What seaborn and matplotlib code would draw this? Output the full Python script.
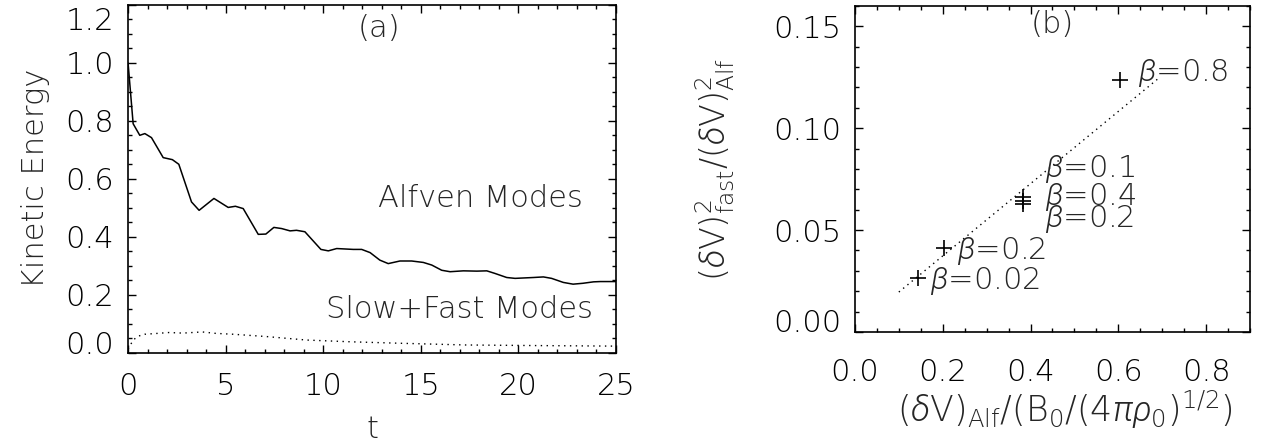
import matplotlib
matplotlib.use("Agg")
import matplotlib.pyplot as plt
import matplotlib.font_manager as fm
import matplotlib.transforms as mtransforms
from matplotlib.ticker import MultipleLocator, FormatStrFormatter
import seaborn as sns

# ---------------- data ----------------
# panel (a): kinetic energy vs time
t_alfven = [0, 0.26, 0.6, 0.86, 1.2, 1.8, 2.27, 2.6, 3.25, 3.64, 4.4, 5.13, 5.5, 5.9,
            6.67, 7.06, 7.47, 7.87, 8.3, 8.63, 9.06, 9.88, 10.26, 10.69, 11.54, 11.97,
            12.4, 12.9, 13.33, 13.93, 14.53, 15.13, 15.56, 16.07, 16.5, 17.18, 17.87,
            18.38, 18.8, 19.4, 19.83, 20.77, 21.28, 21.7, 22.3, 22.8, 23.3, 23.85, 24.2, 25.0]
e_alfven = [1.0, 0.79, 0.75, 0.756, 0.742, 0.673, 0.666, 0.65, 0.52, 0.491, 0.532, 0.501,
            0.505, 0.497, 0.408, 0.409, 0.432, 0.428, 0.42, 0.422, 0.417, 0.356, 0.351,
            0.359, 0.356, 0.356, 0.345, 0.319, 0.307, 0.316, 0.316, 0.311, 0.302, 0.284,
            0.279, 0.282, 0.281, 0.282, 0.273, 0.259, 0.256, 0.259, 0.261, 0.256, 0.242,
            0.236, 0.239, 0.244, 0.245, 0.245]
t_slowfast = [0, 0.1, 0.3, 0.5, 0.85, 1.5, 2.1, 2.8, 3.8, 4.5, 5.4, 7.1, 9.15, 11.4,
              13.9, 17.3, 20.8, 25.0]
e_slowfast = [0.012, 0.025, 0.045, 0.056, 0.063, 0.066, 0.069, 0.067, 0.071, 0.066,
              0.063, 0.055, 0.043, 0.037, 0.032, 0.026, 0.024, 0.022]

# panel (b): fast/Alfven ratio vs Alfven amplitude
beta_labels = ["0.02", "0.2", "0.1", "0.4", "0.2", "0.8"]
dv_alf = [0.143, 0.204, 0.383, 0.383, 0.383, 0.604]
ratio_fast = [0.0267, 0.041, 0.0661, 0.0643, 0.0626, 0.1239]
fit_x = [0.10, 0.69]
fit_y = [0.0196, 0.1242]

# ---------------- fonts ----------------
sns.set_style("white")


def _weight(f):
    w = f.weight
    if isinstance(w, str):
        w = fm.weight_dict.get(w, 400)
    return w


def pick_font(prefs, style):
    found = []
    for f in fm.fontManager.ttflist:
        w = _weight(f)
        if f.style != style:
            continue
        if "Condensed" in f.fname or "Mono" in f.name or "Serif" in f.name:
            continue
        for i, base in enumerate(prefs):
            if f.name == base or f.name in (base + " Light", base + " ExtraLight"):
                if 200 <= w <= 300:
                    found.append((i, -w, f.name, w))
    if found:
        found.sort()
        return found[0][2], found[0][3]
    return None, None


FONT, WEIGHT = pick_font(["DejaVu Sans", "Roboto", "Lato", "Open Sans", "Inter",
                          "Noto Sans"], "normal")
if FONT is None:
    FONT, WEIGHT = "DejaVu Sans", 400
IFONT, IWEIGHT = pick_font(["Roboto", "Lato", "Open Sans", "Noto Sans", "Inter",
                            "DejaVu Sans"], "italic")
if IFONT is None:
    IFONT, IWEIGHT = FONT, WEIGHT

plt.rcParams["font.family"] = [FONT, "DejaVu Sans"]
plt.rcParams["font.weight"] = WEIGHT
plt.rcParams["axes.labelweight"] = WEIGHT
plt.rcParams["mathtext.fontset"] = "custom"
plt.rcParams["mathtext.rm"] = f"{FONT}:weight={WEIGHT}"
plt.rcParams["mathtext.it"] = f"{IFONT}:italic:weight={IWEIGHT}"
plt.rcParams["mathtext.bf"] = f"{FONT}:weight=bold"
plt.rcParams["axes.linewidth"] = 1.2

if FONT.startswith("DejaVu"):
    FS, FST, FSM = 22, 22, 25
else:
    FS, FST, FSM = 25, 23, 27

fig = plt.figure(figsize=(12.73, 4.47), dpi=100)
fig.patch.set_facecolor("white")
ax1 = fig.add_axes([0.1006, 0.2114, 0.3833, 0.7774])
ax2 = fig.add_axes([0.6716, 0.2573, 0.3103, 0.7293])

# ---------------- panel (a) ----------------
sns.lineplot(x=t_alfven, y=e_alfven, ax=ax1, color="black", linewidth=1.1,
             estimator=None, sort=False)
sns.lineplot(x=t_slowfast, y=e_slowfast, ax=ax1, color="black", linewidth=1.0,
             linestyle=(0, (1, 3.2)), estimator=None, sort=False)
ax1.set_xlim(0, 25)
ax1.set_ylim(0, 1.2)
ax1.xaxis.set_major_locator(MultipleLocator(5))
ax1.xaxis.set_minor_locator(MultipleLocator(1))
ax1.yaxis.set_major_locator(MultipleLocator(0.2))
ax1.yaxis.set_minor_locator(MultipleLocator(0.05))
ax1.yaxis.set_major_formatter(FormatStrFormatter("%.1f"))
ax1.set_xlabel("t", fontsize=FS, fontweight=WEIGHT)
ax1.set_ylabel("Kinetic Energy", fontsize=FS, fontweight=WEIGHT)
ax1.xaxis.set_label_coords(0.5, -0.223)
ax1.xaxis.label.set_va("center")
ax1.yaxis.set_label_coords(-0.19, 0.5)
ax1.yaxis.label.set_va("center")
ax1.text(12.84, 1.12, "(a)", fontsize=FS, ha="center", va="center")
ax1.text(18.05, 0.533, "Alfven Modes", fontsize=FS, ha="center", va="center")
ax1.text(16.97, 0.147, "Slow+Fast Modes", fontsize=FS, ha="center", va="center")

# ---------------- panel (b) ----------------
sns.lineplot(x=fit_x, y=fit_y, ax=ax2, color="black", linewidth=1.0,
             linestyle=(0, (1, 3)), estimator=None, sort=False)
sns.scatterplot(x=dv_alf, y=ratio_fast, ax=ax2, marker="+", s=120, color="black",
                linewidth=1.2)
ax2.set_xlim(0, 0.9)
ax2.set_ylim(0, 0.16)
ax2.xaxis.set_major_locator(MultipleLocator(0.2))
ax2.xaxis.set_minor_locator(MultipleLocator(0.05))
ax2.yaxis.set_major_locator(MultipleLocator(0.05))
ax2.yaxis.set_minor_locator(MultipleLocator(0.01))
ax2.xaxis.set_major_formatter(FormatStrFormatter("%.1f"))
ax2.yaxis.set_major_formatter(FormatStrFormatter("%.2f"))
ax2.set_xlabel(r"$(\delta\mathrm{V})_{\mathrm{Alf}}/(\mathrm{B}_0/(4\pi\rho_0)^{1/2})$",
               fontsize=FSM, fontweight=WEIGHT)
ax2.set_ylabel(r"$(\delta\mathrm{V})^2_{\mathrm{fast}}/(\delta\mathrm{V})^2_{\mathrm{Alf}}$",
               fontsize=FSM - 1, fontweight=WEIGHT)
ax2.xaxis.set_label_coords(0.53, -0.24)
ax2.xaxis.label.set_va("center")
ax2.yaxis.set_label_coords(-0.354, 0.5)
ax2.yaxis.label.set_va("center")
ax2.text(0.45, 0.151, "(b)", fontsize=FS, ha="center", va="center")

label_pos = [(0.170, 0.0213), (0.232, 0.0356), (0.434, 0.0760),
             (0.434, 0.0623), (0.434, 0.0513), (0.645, 0.1231)]
for lab, (lx, ly) in zip(beta_labels, label_pos):
    ax2.text(lx, ly, r"$\beta$=" + lab, fontsize=FS, ha="left", va="baseline")

# ---------------- ticks ----------------
for ax, pady in ((ax1, 14), (ax2, 19)):
    ax.tick_params(which="both", direction="in", top=True, right=True,
                   bottom=True, left=True, colors="black")
    ax.tick_params(which="major", length=6, width=1.0)
    ax.tick_params(which="minor", length=3, width=1.0)
    ax.tick_params(axis="x", which="major", labelsize=FST, pad=pady)
    ax.tick_params(axis="y", which="major", labelsize=FST, pad=10)
    for s in ax.spines.values():
        s.set_visible(True)
        s.set_color("black")

fig.canvas.draw()


def shift_label(ax, index, dy_pt):
    ticks = ax.yaxis.get_major_ticks()
    lab = ticks[index].label1
    off = mtransforms.ScaledTranslation(0, dy_pt / 72.0, fig.dpi_scale_trans)
    lab.set_transform(lab.get_transform() + off)


locs1 = [round(v, 3) for v in ax1.get_yticks()]
shift_label(ax1, locs1.index(0.0), 7.3)
shift_label(ax1, locs1.index(1.2), -10)
locs2 = [round(v, 3) for v in ax2.get_yticks()]
shift_label(ax2, locs2.index(0.0), 8.3)

fig.savefig("out.png", dpi=100, facecolor="white")
